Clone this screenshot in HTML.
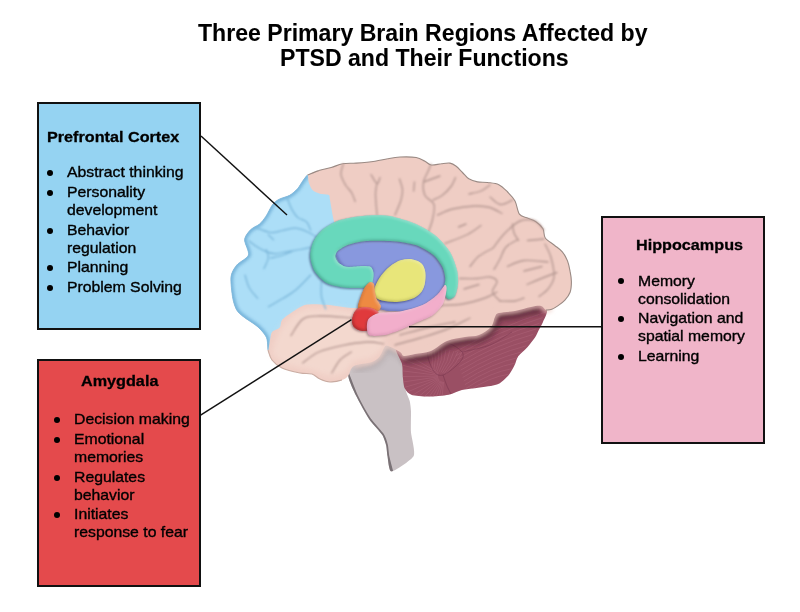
<!DOCTYPE html>
<html><head><meta charset="utf-8"><style>
html,body{margin:0;padding:0;background:#fff;}
body{width:800px;height:612px;position:relative;overflow:hidden;font-family:"Liberation Sans",sans-serif;}
.t{position:absolute;white-space:nowrap;line-height:30px;transform-origin:0 0;}
.b{position:absolute;border-radius:50%;background:#000;}
.box{position:absolute;box-sizing:border-box;border:2px solid #111;}
.brain{position:absolute;left:0;top:0;}
</style></head><body>
<div class="t" style="left:198.00px;top:18.23px;font-size:23.3px;font-weight:bold;color:#000;transform:scaleX(0.991);-webkit-text-stroke:0.05px #000">Three Primary Brain Regions Affected by</div><div class="t" style="left:279.50px;top:42.93px;font-size:23.3px;font-weight:bold;color:#000;transform:scaleX(0.991);-webkit-text-stroke:0.05px #000">PTSD and Their Functions</div><div class="box" style="left:37px;top:102px;width:164px;height:228px;background:#95d3f2"></div><div class="box" style="left:37px;top:359px;width:164px;height:228px;background:#e44a4c"></div><div class="box" style="left:601px;top:216px;width:164px;height:228px;background:#f0b5c9"></div>
<svg class="brain" width="800" height="612" viewBox="0 0 800 612"><defs><filter id="blur1" x="-20%" y="-20%" width="140%" height="140%"><feGaussianBlur stdDeviation="0.6"/></filter><filter id="blur08" x="-20%" y="-20%" width="140%" height="140%"><feGaussianBlur stdDeviation="0.9"/></filter><filter id="blur05" x="-20%" y="-20%" width="140%" height="140%"><feGaussianBlur stdDeviation="0.4"/></filter><filter id="blur15" x="-20%" y="-20%" width="140%" height="140%"><feGaussianBlur stdDeviation="1.5"/></filter><filter id="blur2" x="-20%" y="-20%" width="140%" height="140%"><feGaussianBlur stdDeviation="2"/></filter><filter id="blur3" x="-20%" y="-20%" width="140%" height="140%"><feGaussianBlur stdDeviation="3"/></filter><filter id="bvP" x="-20%" y="-20%" width="140%" height="140%" color-interpolation-filters="sRGB"><feGaussianBlur in="SourceAlpha" stdDeviation="1.6" result="b"/><feOffset in="b" dx="1.3" dy="-1.3" result="o"/><feComposite in="SourceAlpha" in2="o" operator="arithmetic" k2="1" k3="-1" result="inner"/><feFlood flood-color="#303880" flood-opacity="0.45"/><feComposite in2="inner" operator="in" result="sh"/><feOffset in="b" dx="-1.3" dy="1.3" result="o2"/><feComposite in="SourceAlpha" in2="o2" operator="arithmetic" k2="1" k3="-1" result="inner2"/><feFlood flood-color="#ffffff" flood-opacity="0.35"/><feComposite in2="inner2" operator="in" result="hl"/><feGaussianBlur in="SourceAlpha" stdDeviation="1.3" result="db"/><feOffset in="db" dx="-0.6" dy="1.4" result="do"/><feFlood flood-color="#202050" flood-opacity="0.5"/><feComposite in2="do" operator="in" result="ds"/><feMerge><feMergeNode in="ds"/><feMergeNode in="SourceGraphic"/><feMergeNode in="sh"/><feMergeNode in="hl"/></feMerge></filter><filter id="bvG" x="-20%" y="-20%" width="140%" height="140%" color-interpolation-filters="sRGB"><feGaussianBlur in="SourceAlpha" stdDeviation="1.6" result="b"/><feOffset in="b" dx="1.3" dy="-1.3" result="o"/><feComposite in="SourceAlpha" in2="o" operator="arithmetic" k2="1" k3="-1" result="inner"/><feFlood flood-color="#1f6a58" flood-opacity="0.45"/><feComposite in2="inner" operator="in" result="sh"/><feOffset in="b" dx="-1.3" dy="1.3" result="o2"/><feComposite in="SourceAlpha" in2="o2" operator="arithmetic" k2="1" k3="-1" result="inner2"/><feFlood flood-color="#ffffff" flood-opacity="0.35"/><feComposite in2="inner2" operator="in" result="hl"/><feGaussianBlur in="SourceAlpha" stdDeviation="1.3" result="db"/><feOffset in="db" dx="-0.6" dy="1.4" result="do"/><feFlood flood-color="#20305a" flood-opacity="0.6"/><feComposite in2="do" operator="in" result="ds"/><feMerge><feMergeNode in="ds"/><feMergeNode in="SourceGraphic"/><feMergeNode in="sh"/><feMergeNode in="hl"/></feMerge></filter><filter id="bvY" x="-20%" y="-20%" width="140%" height="140%" color-interpolation-filters="sRGB"><feGaussianBlur in="SourceAlpha" stdDeviation="1.6" result="b"/><feOffset in="b" dx="1.3" dy="-1.3" result="o"/><feComposite in="SourceAlpha" in2="o" operator="arithmetic" k2="1" k3="-1" result="inner"/><feFlood flood-color="#7a7a20" flood-opacity="0.45"/><feComposite in2="inner" operator="in" result="sh"/><feOffset in="b" dx="-1.3" dy="1.3" result="o2"/><feComposite in="SourceAlpha" in2="o2" operator="arithmetic" k2="1" k3="-1" result="inner2"/><feFlood flood-color="#ffffff" flood-opacity="0.35"/><feComposite in2="inner2" operator="in" result="hl"/><feGaussianBlur in="SourceAlpha" stdDeviation="1.3" result="db"/><feOffset in="db" dx="-0.6" dy="1.4" result="do"/><feFlood flood-color="#202050" flood-opacity="0.6"/><feComposite in2="do" operator="in" result="ds"/><feMerge><feMergeNode in="ds"/><feMergeNode in="SourceGraphic"/><feMergeNode in="sh"/><feMergeNode in="hl"/></feMerge></filter><filter id="bvO" x="-20%" y="-20%" width="140%" height="140%" color-interpolation-filters="sRGB"><feGaussianBlur in="SourceAlpha" stdDeviation="1.6" result="b"/><feOffset in="b" dx="1.3" dy="-1.3" result="o"/><feComposite in="SourceAlpha" in2="o" operator="arithmetic" k2="1" k3="-1" result="inner"/><feFlood flood-color="#803010" flood-opacity="0.45"/><feComposite in2="inner" operator="in" result="sh"/><feOffset in="b" dx="-1.3" dy="1.3" result="o2"/><feComposite in="SourceAlpha" in2="o2" operator="arithmetic" k2="1" k3="-1" result="inner2"/><feFlood flood-color="#ffffff" flood-opacity="0.35"/><feComposite in2="inner2" operator="in" result="hl"/><feGaussianBlur in="SourceAlpha" stdDeviation="1.3" result="db"/><feOffset in="db" dx="-0.6" dy="1.4" result="do"/><feFlood flood-color="#401020" flood-opacity="0.5"/><feComposite in2="do" operator="in" result="ds"/><feMerge><feMergeNode in="ds"/><feMergeNode in="SourceGraphic"/><feMergeNode in="sh"/><feMergeNode in="hl"/></feMerge></filter><filter id="bvR" x="-20%" y="-20%" width="140%" height="140%" color-interpolation-filters="sRGB"><feGaussianBlur in="SourceAlpha" stdDeviation="1.6" result="b"/><feOffset in="b" dx="1.3" dy="-1.3" result="o"/><feComposite in="SourceAlpha" in2="o" operator="arithmetic" k2="1" k3="-1" result="inner"/><feFlood flood-color="#701010" flood-opacity="0.55"/><feComposite in2="inner" operator="in" result="sh"/><feOffset in="b" dx="-1.3" dy="1.3" result="o2"/><feComposite in="SourceAlpha" in2="o2" operator="arithmetic" k2="1" k3="-1" result="inner2"/><feFlood flood-color="#ffffff" flood-opacity="0.35"/><feComposite in2="inner2" operator="in" result="hl"/><feGaussianBlur in="SourceAlpha" stdDeviation="1.3" result="db"/><feOffset in="db" dx="-0.6" dy="1.4" result="do"/><feFlood flood-color="#401020" flood-opacity="0.5"/><feComposite in2="do" operator="in" result="ds"/><feMerge><feMergeNode in="ds"/><feMergeNode in="SourceGraphic"/><feMergeNode in="sh"/><feMergeNode in="hl"/></feMerge></filter><filter id="bvH" x="-20%" y="-20%" width="140%" height="140%" color-interpolation-filters="sRGB"><feGaussianBlur in="SourceAlpha" stdDeviation="1.6" result="b"/><feOffset in="b" dx="1.3" dy="-1.3" result="o"/><feComposite in="SourceAlpha" in2="o" operator="arithmetic" k2="1" k3="-1" result="inner"/><feFlood flood-color="#a05078" flood-opacity="0.35"/><feComposite in2="inner" operator="in" result="sh"/><feOffset in="b" dx="-1.3" dy="1.3" result="o2"/><feComposite in="SourceAlpha" in2="o2" operator="arithmetic" k2="1" k3="-1" result="inner2"/><feFlood flood-color="#ffffff" flood-opacity="0.35"/><feComposite in2="inner2" operator="in" result="hl"/><feGaussianBlur in="SourceAlpha" stdDeviation="1.3" result="db"/><feOffset in="db" dx="-0.6" dy="1.4" result="do"/><feFlood flood-color="#503040" flood-opacity="0.45"/><feComposite in2="do" operator="in" result="ds"/><feMerge><feMergeNode in="ds"/><feMergeNode in="SourceGraphic"/><feMergeNode in="sh"/><feMergeNode in="hl"/></feMerge></filter><clipPath id="stemclip"><path d="M350.0,350.0 C355.2,345.9 394.4,335.5 400.0,335.0 C405.6,334.5 405.7,341.3 406.0,345.0 C406.3,348.7 403.2,367.7 403.2,372.3 C403.2,376.9 405.2,387.7 405.8,390.6 C406.4,393.5 409.2,398.9 409.7,401.0 C410.2,403.1 410.9,408.4 411.0,411.5 C411.1,414.6 410.7,427.9 411.0,432.4 C411.3,436.8 415.7,452.1 413.7,456.0 C411.7,459.9 394.0,471.6 391.4,471.6 C388.8,471.6 388.0,458.6 387.5,456.0 C387.0,453.4 386.7,447.6 386.2,445.5 C385.7,443.4 384.0,437.6 382.3,435.0 C380.6,432.4 371.8,423.2 369.2,419.3 C366.6,415.4 358.2,400.1 356.1,395.8 C354.0,391.5 348.9,380.8 348.3,376.2 C347.7,371.6 344.8,354.1 350.0,350.0Z"/></clipPath><clipPath id="cbclip"><path d="M420.0,330.0 C433.9,324.0 483.9,303.6 500.0,300.0 C516.1,296.4 534.7,301.5 541.0,303.0 C547.3,304.5 546.7,308.5 547.0,311.0 C547.3,313.5 544.1,319.5 543.0,322.0 C541.9,324.5 539.9,327.9 538.8,330.0 C537.7,332.1 536.5,335.2 535.0,337.5 C533.5,339.8 529.8,344.4 527.6,346.9 C525.4,349.4 520.0,353.8 518.2,356.3 C516.4,358.8 515.7,363.1 514.4,365.6 C513.1,368.1 510.8,372.6 508.8,375.0 C506.8,377.4 502.1,381.9 499.4,383.4 C496.7,384.9 491.5,385.7 488.2,386.3 C484.9,386.9 478.5,387.7 475.0,388.2 C471.5,388.7 465.4,389.1 461.9,390.0 C458.4,390.9 453.3,393.8 448.8,394.7 C444.3,395.6 433.1,396.6 428.1,396.6 C423.1,396.6 414.4,395.8 411.3,394.7 C408.2,393.6 405.8,390.6 404.7,388.2 C403.6,385.8 403.2,380.2 402.8,376.9 C402.4,373.6 402.9,368.1 402.0,363.8 C401.1,359.5 393.6,349.5 396.0,345.0 C398.4,340.5 406.1,336.0 420.0,330.0Z"/></clipPath><clipPath id="blueclip"><path d="M307.5,175.0 C306.7,174.8 304.0,179.2 302.7,181.0 C301.4,182.8 299.2,186.9 297.5,188.8 C295.8,190.7 292.1,193.9 289.7,195.3 C287.3,196.7 281.5,198.0 279.2,199.2 C276.9,200.4 274.5,202.1 272.7,204.4 C270.9,206.7 267.7,213.6 266.0,216.2 C264.3,218.8 261.7,222.2 259.6,224.0 C257.5,225.8 252.5,227.7 250.5,229.8 C248.5,231.9 244.9,236.2 244.6,239.6 C244.3,243.0 249.5,251.6 248.5,255.0 C247.5,258.4 239.1,262.1 236.8,265.0 C234.5,267.9 231.5,272.4 231.0,276.9 C230.5,281.4 232.0,294.0 232.8,298.4 C233.6,302.8 235.3,307.6 236.7,310.0 C238.1,312.4 240.2,314.1 243.0,316.4 C245.8,318.7 254.9,324.2 258.0,327.0 C261.1,329.8 265.2,334.5 266.5,337.6 C267.8,340.7 267.5,349.7 268.0,350.0 C268.5,350.3 269.5,342.4 270.0,340.0 C270.5,337.6 270.7,333.7 272.0,332.0 C273.3,330.3 278.5,329.1 279.8,327.5 C281.1,325.9 280.5,321.9 282.0,320.0 C283.5,318.1 287.8,315.0 291.0,313.0 C294.2,311.0 301.0,305.9 305.8,304.8 C310.6,303.7 320.9,304.4 327.0,304.8 C333.1,305.2 346.6,307.8 351.3,308.0 C356.0,308.2 359.5,308.4 362.0,306.0 C364.5,303.6 371.6,296.1 370.0,290.0 C368.4,283.9 354.0,267.3 350.0,260.0 C346.0,252.7 342.1,240.1 340.0,235.0 C337.9,229.9 335.3,226.1 334.0,221.4 C332.7,216.7 330.7,203.5 330.0,200.0 C329.3,196.5 330.1,195.8 328.8,195.0 C327.4,194.2 322.2,194.4 320.0,193.8 C317.8,193.1 314.0,191.5 312.5,190.0 C311.0,188.5 309.4,184.5 308.8,182.5 C308.1,180.5 308.3,175.2 307.5,175.0Z"/></clipPath></defs><path d="M350.0,350.0 C355.2,345.9 394.4,335.5 400.0,335.0 C405.6,334.5 405.7,341.3 406.0,345.0 C406.3,348.7 403.2,367.7 403.2,372.3 C403.2,376.9 405.2,387.7 405.8,390.6 C406.4,393.5 409.2,398.9 409.7,401.0 C410.2,403.1 410.9,408.4 411.0,411.5 C411.1,414.6 410.7,427.9 411.0,432.4 C411.3,436.8 415.7,452.1 413.7,456.0 C411.7,459.9 394.0,471.6 391.4,471.6 C388.8,471.6 388.0,458.6 387.5,456.0 C387.0,453.4 386.7,447.6 386.2,445.5 C385.7,443.4 384.0,437.6 382.3,435.0 C380.6,432.4 371.8,423.2 369.2,419.3 C366.6,415.4 358.2,400.1 356.1,395.8 C354.0,391.5 348.9,380.8 348.3,376.2 C347.7,371.6 344.8,354.1 350.0,350.0Z" fill="#c9c1c4"/><g clip-path="url(#stemclip)"><path d="M346.0,370.0 C346.2,370.6 347.3,373.6 348.3,376.2 C349.3,378.8 354.0,391.5 356.1,395.8 C358.2,400.1 366.6,415.4 369.2,419.3 C371.8,423.2 380.6,432.4 382.3,435.0 C384.0,437.6 385.7,443.4 386.2,445.5 C386.7,447.6 387.0,453.4 387.5,456.0 C388.0,458.6 391.0,470.0 391.4,471.6" fill="none" stroke="#7a7276" stroke-width="3.5" filter="url(#blur1)"/></g><path d="M420.0,330.0 C433.9,324.0 483.9,303.6 500.0,300.0 C516.1,296.4 534.7,301.5 541.0,303.0 C547.3,304.5 546.7,308.5 547.0,311.0 C547.3,313.5 544.1,319.5 543.0,322.0 C541.9,324.5 539.9,327.9 538.8,330.0 C537.7,332.1 536.5,335.2 535.0,337.5 C533.5,339.8 529.8,344.4 527.6,346.9 C525.4,349.4 520.0,353.8 518.2,356.3 C516.4,358.8 515.7,363.1 514.4,365.6 C513.1,368.1 510.8,372.6 508.8,375.0 C506.8,377.4 502.1,381.9 499.4,383.4 C496.7,384.9 491.5,385.7 488.2,386.3 C484.9,386.9 478.5,387.7 475.0,388.2 C471.5,388.7 465.4,389.1 461.9,390.0 C458.4,390.9 453.3,393.8 448.8,394.7 C444.3,395.6 433.1,396.6 428.1,396.6 C423.1,396.6 414.4,395.8 411.3,394.7 C408.2,393.6 405.8,390.6 404.7,388.2 C403.6,385.8 403.2,380.2 402.8,376.9 C402.4,373.6 402.9,368.1 402.0,363.8 C401.1,359.5 393.6,349.5 396.0,345.0 C398.4,340.5 406.1,336.0 420.0,330.0Z" fill="#9a4f64"/><g clip-path="url(#cbclip)"><path d="M443.5,382.0 L439.6,425.8" fill="none" stroke="#b56b80" stroke-width="0.7" opacity="0.55"/><path d="M442.7,381.9 L433.0,424.8" fill="none" stroke="#b56b80" stroke-width="0.7" opacity="0.55"/><path d="M441.9,381.6 L426.6,422.9" fill="none" stroke="#b56b80" stroke-width="0.7" opacity="0.55"/><path d="M441.2,381.3 L420.5,420.1" fill="none" stroke="#b56b80" stroke-width="0.7" opacity="0.55"/><path d="M440.5,380.9 L414.8,416.6" fill="none" stroke="#b56b80" stroke-width="0.7" opacity="0.55"/><path d="M439.9,380.4 L409.7,412.4" fill="none" stroke="#b56b80" stroke-width="0.7" opacity="0.55"/><path d="M439.3,379.8 L405.1,407.5" fill="none" stroke="#b56b80" stroke-width="0.7" opacity="0.55"/><path d="M438.9,379.1 L401.3,402.0" fill="none" stroke="#b56b80" stroke-width="0.7" opacity="0.55"/><path d="M438.5,378.4 L398.2,396.1" fill="none" stroke="#b56b80" stroke-width="0.7" opacity="0.55"/><path d="M438.2,377.7 L395.9,389.8" fill="none" stroke="#b56b80" stroke-width="0.7" opacity="0.55"/><path d="M438.1,376.9 L394.5,383.2" fill="none" stroke="#b56b80" stroke-width="0.7" opacity="0.55"/><path d="M438.0,376.1 L394.0,376.6" fill="none" stroke="#b56b80" stroke-width="0.7" opacity="0.55"/><path d="M438.0,375.3 L394.4,369.9" fill="none" stroke="#b56b80" stroke-width="0.7" opacity="0.55"/><path d="M438.2,374.5 L395.6,363.3" fill="none" stroke="#b56b80" stroke-width="0.7" opacity="0.55"/><path d="M438.5,373.7 L397.8,357.0" fill="none" stroke="#b56b80" stroke-width="0.7" opacity="0.55"/><path d="M438.8,373.0 L400.7,351.0" fill="none" stroke="#b56b80" stroke-width="0.7" opacity="0.55"/><path d="M430.0,347.0 Q434.0,358.5 432.0,370.0" fill="none" stroke="#b56b80" stroke-width="0.7" opacity="0.55"/><path d="M434.0,347.6 Q436.9,359.1 433.8,370.5" fill="none" stroke="#b56b80" stroke-width="0.7" opacity="0.55"/><path d="M438.0,348.2 Q439.8,359.6 435.5,371.0" fill="none" stroke="#b56b80" stroke-width="0.7" opacity="0.55"/><path d="M442.0,348.9 Q442.6,360.2 437.2,371.5" fill="none" stroke="#b56b80" stroke-width="0.7" opacity="0.55"/><path d="M446.0,349.5 Q445.5,360.8 439.0,372.0" fill="none" stroke="#b56b80" stroke-width="0.7" opacity="0.55"/><path d="M450.0,350.1 Q448.4,361.3 440.8,372.5" fill="none" stroke="#b56b80" stroke-width="0.7" opacity="0.55"/><path d="M454.0,350.8 Q451.2,361.9 442.5,373.0" fill="none" stroke="#b56b80" stroke-width="0.7" opacity="0.55"/><path d="M458.0,351.4 Q454.1,362.4 444.2,373.5" fill="none" stroke="#b56b80" stroke-width="0.7" opacity="0.55"/><path d="M462.0,352.0 Q457.0,363.0 446.0,374.0" fill="none" stroke="#b56b80" stroke-width="0.7" opacity="0.55"/><path d="M455.0,352.0 Q500.5,326.0 546.0,312.0" fill="none" stroke="#b56b80" stroke-width="0.7" opacity="0.55"/><path d="M456.1,355.6 Q499.4,330.6 542.7,317.6" fill="none" stroke="#b56b80" stroke-width="0.7" opacity="0.55"/><path d="M457.2,359.3 Q498.3,335.3 539.5,323.3" fill="none" stroke="#b56b80" stroke-width="0.7" opacity="0.55"/><path d="M458.3,362.9 Q497.2,339.9 536.2,328.9" fill="none" stroke="#b56b80" stroke-width="0.7" opacity="0.55"/><path d="M459.4,366.5 Q496.1,344.5 532.9,334.5" fill="none" stroke="#b56b80" stroke-width="0.7" opacity="0.55"/><path d="M460.5,370.2 Q495.0,349.2 529.6,340.2" fill="none" stroke="#b56b80" stroke-width="0.7" opacity="0.55"/><path d="M461.5,373.8 Q494.0,353.8 526.4,345.8" fill="none" stroke="#b56b80" stroke-width="0.7" opacity="0.55"/><path d="M462.6,377.5 Q492.9,358.5 523.1,351.5" fill="none" stroke="#b56b80" stroke-width="0.7" opacity="0.55"/><path d="M463.7,381.1 Q491.8,363.1 519.8,357.1" fill="none" stroke="#b56b80" stroke-width="0.7" opacity="0.55"/><path d="M464.8,384.7 Q490.7,367.7 516.5,362.7" fill="none" stroke="#b56b80" stroke-width="0.7" opacity="0.55"/><path d="M465.9,388.4 Q489.6,372.4 513.3,368.4" fill="none" stroke="#b56b80" stroke-width="0.7" opacity="0.55"/><path d="M467.0,392.0 Q488.5,377.0 510.0,374.0" fill="none" stroke="#b56b80" stroke-width="0.7" opacity="0.55"/><path d="M428.0,350.0 C430.2,345.5 440.3,342.7 446.0,343.0 C451.7,343.3 459.7,348.8 462.0,352.0 C464.3,355.2 463.2,358.2 460.0,362.0 C456.8,365.8 447.5,373.7 443.0,375.0 C438.5,376.3 435.5,374.2 433.0,370.0 C430.5,365.8 425.8,354.5 428.0,350.0Z" fill="none" stroke="#70304a" stroke-width="1" opacity="0.45"/><path d="M443.0,375.0 C443.7,376.8 445.5,382.5 447.0,386.0 C448.5,389.5 451.2,394.3 452.0,396.0" fill="none" stroke="#70304a" stroke-width="1" opacity="0.45"/><path d="M462.0,352.0 C466.7,350.8 481.7,348.3 490.0,345.0 C498.3,341.7 508.3,334.2 512.0,332.0" fill="none" stroke="#70304a" stroke-width="0.9" opacity="0.4"/></g><path d="M541.0,306.0 C539.3,306.2 535.3,306.2 531.0,307.0 C526.7,307.8 520.3,310.0 515.0,311.0 C509.7,312.0 502.3,312.0 499.0,313.0 C495.7,314.0 496.3,314.7 495.0,317.0 C493.7,319.3 493.7,324.0 491.0,327.0 C488.3,330.0 483.3,333.3 479.0,335.0 C474.7,336.7 470.3,336.0 465.0,337.0 C459.7,338.0 452.7,338.7 447.0,341.0 C441.3,343.3 436.3,348.8 431.0,351.0 C425.7,353.2 419.5,353.2 415.0,354.0 C410.5,354.8 405.8,355.7 404.0,356.0" fill="none" stroke="#3a1420" stroke-width="8" opacity="0.7" transform="translate(0,3)" filter="url(#blur3)"/><path d="M404.0,356.0 C403.3,355.3 402.7,353.7 400.0,352.0 C397.3,350.3 390.7,346.7 388.0,346.0 C385.3,345.3 385.3,346.3 384.0,348.0 C382.7,349.7 382.0,353.7 380.0,356.0 C378.0,358.3 376.3,360.3 372.0,362.0 C367.7,363.7 357.0,365.3 354.0,366.0" fill="none" stroke="#403538" stroke-width="6" opacity="0.18" transform="translate(0,2.5)" filter="url(#blur3)"/><path d="M307.5,175.0 C310.2,173.3 314.8,171.8 318.8,170.6 C322.7,169.3 327.3,168.6 331.2,167.5 C335.2,166.4 338.3,164.5 342.5,163.8 C346.7,163.0 350.8,163.5 356.2,163.1 C361.7,162.7 369.8,162.0 375.0,161.2 C380.2,160.5 383.3,159.5 387.5,158.8 C391.7,158.0 395.2,157.2 400.0,157.0 C404.8,156.8 412.1,156.8 416.2,157.5 C420.4,158.2 422.5,160.0 425.0,161.2 C427.5,162.5 428.5,164.6 431.2,165.0 C434.0,165.4 438.1,164.1 441.2,163.8 C444.4,163.4 447.5,162.7 450.0,163.1 C452.5,163.5 454.2,164.7 456.2,166.2 C458.3,167.8 460.4,170.4 462.5,172.5 C464.6,174.6 466.2,177.2 468.8,178.8 C471.2,180.3 474.4,181.3 477.5,181.9 C480.6,182.5 483.9,182.0 487.5,182.5 C491.1,183.0 495.4,183.1 498.8,184.7 C502.2,186.3 504.9,189.3 507.6,192.0 C510.3,194.7 513.0,197.2 515.0,200.9 C517.0,204.6 517.4,211.3 519.4,214.1 C521.4,216.9 524.1,216.6 526.8,217.8 C529.5,219.0 532.9,219.7 535.6,221.5 C538.3,223.3 541.4,226.1 543.0,228.8 C544.6,231.6 543.4,235.3 545.3,238.0 C547.2,240.7 551.6,242.9 554.4,245.2 C557.2,247.5 560.1,249.2 562.3,251.8 C564.5,254.4 566.2,257.6 567.5,260.9 C568.8,264.2 569.5,267.9 570.1,271.4 C570.8,274.9 571.4,278.3 571.4,281.8 C571.4,285.3 571.2,289.2 570.1,292.3 C569.0,295.4 566.9,297.9 564.9,300.1 C562.9,302.3 560.6,303.9 558.4,305.4 C556.2,306.9 553.9,308.5 551.8,309.3 C549.7,310.1 547.8,310.6 546.0,310.0 C544.2,309.4 543.5,306.5 541.0,306.0 C538.5,305.5 535.3,306.2 531.0,307.0 C526.7,307.8 520.3,310.0 515.0,311.0 C509.7,312.0 502.3,312.0 499.0,313.0 C495.7,314.0 496.3,314.7 495.0,317.0 C493.7,319.3 493.7,324.0 491.0,327.0 C488.3,330.0 483.3,333.3 479.0,335.0 C474.7,336.7 470.3,336.0 465.0,337.0 C459.7,338.0 452.7,338.7 447.0,341.0 C441.3,343.3 436.3,348.8 431.0,351.0 C425.7,353.2 419.5,353.2 415.0,354.0 C410.5,354.8 406.5,356.3 404.0,356.0 C401.5,355.7 402.7,353.7 400.0,352.0 C397.3,350.3 390.7,346.7 388.0,346.0 C385.3,345.3 385.3,346.3 384.0,348.0 C382.7,349.7 382.0,353.7 380.0,356.0 C378.0,358.3 376.3,360.3 372.0,362.0 C367.7,363.7 358.0,363.7 354.0,366.0 C350.0,368.3 350.0,373.7 348.0,376.0 C346.0,378.3 345.0,379.0 342.0,380.0 C339.0,381.0 333.7,382.2 330.0,382.0 C326.3,381.8 323.0,380.3 320.0,379.0 C317.0,377.7 315.3,375.0 312.0,374.0 C308.7,373.0 305.0,374.0 300.0,373.0 C295.0,372.0 286.7,370.2 282.0,368.0 C277.3,365.8 274.3,363.0 272.0,360.0 C269.7,357.0 268.9,353.7 268.0,350.0 C267.1,346.3 268.2,341.4 266.5,337.6 C264.8,333.8 261.9,330.5 258.0,327.0 C254.1,323.5 246.6,319.2 243.0,316.4 C239.4,313.6 238.4,313.0 236.7,310.0 C235.0,307.0 233.8,303.9 232.8,298.4 C231.9,292.9 230.3,282.5 231.0,276.9 C231.7,271.3 233.9,268.6 236.8,265.0 C239.7,261.4 247.2,259.2 248.5,255.0 C249.8,250.8 244.3,243.8 244.6,239.6 C244.9,235.4 248.0,232.4 250.5,229.8 C253.0,227.2 257.0,226.3 259.6,224.0 C262.2,221.7 263.8,219.5 266.0,216.2 C268.2,212.9 270.5,207.2 272.7,204.4 C274.9,201.6 276.4,200.7 279.2,199.2 C282.0,197.7 286.6,197.0 289.7,195.3 C292.8,193.6 295.3,191.2 297.5,188.8 C299.7,186.4 301.0,183.3 302.7,181.0 C304.4,178.7 304.8,176.7 307.5,175.0Z" fill="#efcdc4"/><path d="M551.8,309.3 C550.8,309.4 547.8,310.6 546.0,310.0 C544.2,309.4 543.5,306.5 541.0,306.0 C538.5,305.5 535.3,306.2 531.0,307.0 C526.7,307.8 520.3,310.0 515.0,311.0 C509.7,312.0 502.3,312.0 499.0,313.0 C495.7,314.0 496.3,314.7 495.0,317.0 C493.7,319.3 493.7,324.0 491.0,327.0 C488.3,330.0 483.3,333.3 479.0,335.0 C474.7,336.7 470.3,336.0 465.0,337.0 C459.7,338.0 452.7,338.7 447.0,341.0 C441.3,343.3 436.3,348.8 431.0,351.0 C425.7,353.2 419.5,353.2 415.0,354.0 C410.5,354.8 406.5,356.3 404.0,356.0 C401.5,355.7 402.7,353.7 400.0,352.0 C397.3,350.3 390.7,346.7 388.0,346.0 C385.3,345.3 385.3,346.3 384.0,348.0 C382.7,349.7 382.0,353.7 380.0,356.0 C378.0,358.3 376.3,360.3 372.0,362.0 C367.7,363.7 357.0,365.3 354.0,366.0" fill="none" stroke="#efcdc4" stroke-width="3.5" filter="url(#blur2)"/><path d="M307.5,175.0 C309.4,174.3 314.8,171.8 318.8,170.6 C322.7,169.3 327.3,168.6 331.2,167.5 C335.2,166.4 338.3,164.5 342.5,163.8 C346.7,163.0 350.8,163.5 356.2,163.1 C361.7,162.7 369.8,162.0 375.0,161.2 C380.2,160.5 383.3,159.5 387.5,158.8 C391.7,158.0 395.2,157.2 400.0,157.0 C404.8,156.8 412.1,156.8 416.2,157.5 C420.4,158.2 422.5,160.0 425.0,161.2 C427.5,162.5 428.5,164.6 431.2,165.0 C434.0,165.4 438.1,164.1 441.2,163.8 C444.4,163.4 447.5,162.7 450.0,163.1 C452.5,163.5 454.2,164.7 456.2,166.2 C458.3,167.8 460.4,170.4 462.5,172.5 C464.6,174.6 466.2,177.2 468.8,178.8 C471.2,180.3 474.4,181.3 477.5,181.9 C480.6,182.5 483.9,182.0 487.5,182.5 C491.1,183.0 495.4,183.1 498.8,184.7 C502.2,186.3 504.9,189.3 507.6,192.0 C510.3,194.7 513.0,197.2 515.0,200.9 C517.0,204.6 517.4,211.3 519.4,214.1 C521.4,216.9 524.1,216.6 526.8,217.8 C529.5,219.0 532.9,219.7 535.6,221.5 C538.3,223.3 541.4,226.1 543.0,228.8 C544.6,231.6 543.4,235.3 545.3,238.0 C547.2,240.7 551.6,242.9 554.4,245.2 C557.2,247.5 560.1,249.2 562.3,251.8 C564.5,254.4 566.2,257.6 567.5,260.9 C568.8,264.2 569.5,267.9 570.1,271.4 C570.8,274.9 571.4,278.3 571.4,281.8 C571.4,285.3 571.2,289.2 570.1,292.3 C569.0,295.4 566.9,297.9 564.9,300.1 C562.9,302.3 560.6,303.9 558.4,305.4 C556.2,306.9 553.9,308.5 551.8,309.3 C549.7,310.1 547.0,309.9 546.0,310.0" fill="none" stroke="#9a8a84" stroke-width="1.1" filter="url(#blur05)"/><path d="M342.0,380.0 C340.0,380.3 333.7,382.2 330.0,382.0 C326.3,381.8 323.0,380.3 320.0,379.0 C317.0,377.7 315.3,375.0 312.0,374.0 C308.7,373.0 305.0,374.0 300.0,373.0 C295.0,372.0 286.7,370.2 282.0,368.0 C277.3,365.8 274.3,363.0 272.0,360.0 C269.7,357.0 268.7,351.7 268.0,350.0" fill="none" stroke="#c8aaa0" stroke-width="1.2" filter="url(#blur05)"/><path d="M307.5,175.0 C306.7,174.8 304.0,179.2 302.7,181.0 C301.4,182.8 299.2,186.9 297.5,188.8 C295.8,190.7 292.1,193.9 289.7,195.3 C287.3,196.7 281.5,198.0 279.2,199.2 C276.9,200.4 274.5,202.1 272.7,204.4 C270.9,206.7 267.7,213.6 266.0,216.2 C264.3,218.8 261.7,222.2 259.6,224.0 C257.5,225.8 252.5,227.7 250.5,229.8 C248.5,231.9 244.9,236.2 244.6,239.6 C244.3,243.0 249.5,251.6 248.5,255.0 C247.5,258.4 239.1,262.1 236.8,265.0 C234.5,267.9 231.5,272.4 231.0,276.9 C230.5,281.4 232.0,294.0 232.8,298.4 C233.6,302.8 235.3,307.6 236.7,310.0 C238.1,312.4 240.2,314.1 243.0,316.4 C245.8,318.7 254.9,324.2 258.0,327.0 C261.1,329.8 265.2,334.5 266.5,337.6 C267.8,340.7 267.5,349.7 268.0,350.0 C268.5,350.3 269.5,342.4 270.0,340.0 C270.5,337.6 270.7,333.7 272.0,332.0 C273.3,330.3 278.5,329.1 279.8,327.5 C281.1,325.9 280.5,321.9 282.0,320.0 C283.5,318.1 287.8,315.0 291.0,313.0 C294.2,311.0 301.0,305.9 305.8,304.8 C310.6,303.7 320.9,304.4 327.0,304.8 C333.1,305.2 346.6,307.8 351.3,308.0 C356.0,308.2 359.5,308.4 362.0,306.0 C364.5,303.6 371.6,296.1 370.0,290.0 C368.4,283.9 354.0,267.3 350.0,260.0 C346.0,252.7 342.1,240.1 340.0,235.0 C337.9,229.9 335.3,226.1 334.0,221.4 C332.7,216.7 330.7,203.5 330.0,200.0 C329.3,196.5 330.1,195.8 328.8,195.0 C327.4,194.2 322.2,194.4 320.0,193.8 C317.8,193.1 314.0,191.5 312.5,190.0 C311.0,188.5 309.4,184.5 308.8,182.5 C308.1,180.5 308.3,175.2 307.5,175.0Z" fill="#acdef7"/><g clip-path="url(#blueclip)"><path d="M307.5,175.0 C306.9,175.8 304.0,179.2 302.7,181.0 C301.4,182.8 299.2,186.9 297.5,188.8 C295.8,190.7 292.1,193.9 289.7,195.3 C287.3,196.7 281.5,198.0 279.2,199.2 C276.9,200.4 274.5,202.1 272.7,204.4 C270.9,206.7 267.7,213.6 266.0,216.2 C264.3,218.8 261.7,222.2 259.6,224.0 C257.5,225.8 252.5,227.7 250.5,229.8 C248.5,231.9 244.9,236.2 244.6,239.6 C244.3,243.0 249.5,251.6 248.5,255.0 C247.5,258.4 239.1,262.1 236.8,265.0 C234.5,267.9 231.5,272.4 231.0,276.9 C230.5,281.4 232.0,294.0 232.8,298.4 C233.6,302.8 235.3,307.6 236.7,310.0 C238.1,312.4 240.2,314.1 243.0,316.4 C245.8,318.7 254.9,324.2 258.0,327.0 C261.1,329.8 265.2,334.5 266.5,337.6 C267.8,340.7 267.8,348.3 268.0,350.0" fill="none" stroke="#6aaad4" stroke-width="5" opacity="0.8" filter="url(#blur15)"/></g><path d="M307.5,175.0 C306.9,175.8 304.0,179.2 302.7,181.0 C301.4,182.8 299.2,186.9 297.5,188.8 C295.8,190.7 292.1,193.9 289.7,195.3 C287.3,196.7 281.5,198.0 279.2,199.2 C276.9,200.4 274.5,202.1 272.7,204.4 C270.9,206.7 267.7,213.6 266.0,216.2 C264.3,218.8 261.7,222.2 259.6,224.0 C257.5,225.8 252.5,227.7 250.5,229.8 C248.5,231.9 244.9,236.2 244.6,239.6 C244.3,243.0 249.5,251.6 248.5,255.0 C247.5,258.4 239.1,262.1 236.8,265.0 C234.5,267.9 231.5,272.4 231.0,276.9 C230.5,281.4 232.0,294.0 232.8,298.4 C233.6,302.8 235.3,307.6 236.7,310.0 C238.1,312.4 240.2,314.1 243.0,316.4 C245.8,318.7 254.9,324.2 258.0,327.0 C261.1,329.8 265.2,334.5 266.5,337.6 C267.8,340.7 267.8,348.3 268.0,350.0" fill="none" stroke="#7cb8dc" stroke-width="0.8"/><path d="M272.0,352.0 C272.3,347.0 276.7,336.0 280.0,330.0 C283.3,324.0 287.7,319.7 292.0,316.0 C296.3,312.3 300.2,309.3 306.0,308.0 C311.8,306.7 319.5,307.5 327.0,308.0 C334.5,308.5 344.5,308.7 351.0,311.0 C357.5,313.3 361.2,317.8 366.0,322.0 C370.8,326.2 377.0,332.0 380.0,336.0 C383.0,340.0 385.3,342.3 384.0,346.0 C382.7,349.7 377.0,355.3 372.0,358.0 C367.0,360.7 358.3,359.7 354.0,362.0 C349.7,364.3 350.0,369.7 346.0,372.0 C342.0,374.3 336.0,376.3 330.0,376.0 C324.0,375.7 316.7,371.7 310.0,370.0 C303.3,368.3 295.3,367.7 290.0,366.0 C284.7,364.3 281.0,362.3 278.0,360.0 C275.0,357.7 271.7,357.0 272.0,352.0Z" fill="#f6e0d6" opacity="0.6" filter="url(#blur3)"/><g filter="url(#blur08)"><path d="M343.2,164.0 C342.8,165.8 340.6,171.0 341.0,174.5 C341.4,178.0 343.8,182.0 345.5,185.0 C347.2,188.0 349.9,189.8 351.5,192.5 C353.1,195.2 354.6,200.0 355.2,201.5" fill="none" stroke="#b59892" stroke-width="1.35" stroke-linecap="round"/><path d="M371.0,174.5 C372.0,176.0 375.5,183.0 377.0,183.5 C378.5,184.0 379.5,178.5 380.0,177.5" fill="none" stroke="#b59892" stroke-width="1.35" stroke-linecap="round"/><path d="M377.0,183.5 C376.8,185.2 375.5,188.8 375.5,194.0 C375.5,199.2 376.8,211.5 377.0,215.0" fill="none" stroke="#b59892" stroke-width="1.35" stroke-linecap="round"/><path d="M399.5,179.0 C400.0,180.8 402.2,186.0 402.5,189.5 C402.8,193.0 402.2,195.8 401.0,200.0 C399.8,204.2 396.0,212.5 395.0,215.0" fill="none" stroke="#b59892" stroke-width="1.35" stroke-linecap="round"/><path d="M414.5,182.0 L413.7,191.0" fill="none" stroke="#b59892" stroke-width="1.35" stroke-linecap="round"/><path d="M431.0,164.0 C430.5,165.2 429.2,168.5 428.0,171.5 C426.8,174.5 424.0,178.0 423.5,182.0 C423.0,186.0 423.2,191.8 425.0,195.5 C426.8,199.2 432.8,200.5 434.0,204.5 C435.2,208.5 433.5,214.8 432.5,219.5 C431.5,224.2 428.8,230.8 428.0,233.0" fill="none" stroke="#b59892" stroke-width="1.35" stroke-linecap="round"/><path d="M423.5,182.0 L440.0,176.0" fill="none" stroke="#b59892" stroke-width="1.35" stroke-linecap="round"/><path d="M455.5,177.5 C454.8,179.0 453.2,183.5 451.0,186.5 C448.8,189.5 445.0,193.2 442.0,195.5 C439.0,197.8 434.5,199.2 433.0,200.0" fill="none" stroke="#b59892" stroke-width="1.35" stroke-linecap="round"/><path d="M469.0,194.0 C471.0,193.5 477.5,192.5 481.0,191.0 C484.5,189.5 488.5,186.0 490.0,185.0" fill="none" stroke="#b59892" stroke-width="1.35" stroke-linecap="round"/><path d="M437.5,215.0 C440.0,214.0 446.2,210.5 452.5,209.0 C458.8,207.5 468.8,206.2 475.0,206.0 C481.2,205.8 485.5,206.2 490.0,207.5 C494.5,208.8 500.0,212.5 502.0,213.5" fill="none" stroke="#b59892" stroke-width="1.35" stroke-linecap="round"/><path d="M490.0,197.0 C491.8,198.2 496.8,204.0 500.5,204.5 C504.2,205.0 510.5,200.8 512.5,200.0" fill="none" stroke="#b59892" stroke-width="1.35" stroke-linecap="round"/><path d="M458.5,227.0 L466.0,224.0" fill="none" stroke="#b59892" stroke-width="1.35" stroke-linecap="round"/><path d="M445.0,243.5 C448.8,242.0 461.5,237.5 467.5,234.5 C473.5,231.5 478.8,227.0 481.0,225.5" fill="none" stroke="#b59892" stroke-width="1.35" stroke-linecap="round"/><path d="M493.0,248.0 C495.0,245.5 500.5,237.5 505.0,233.0 C509.5,228.5 515.0,223.0 520.0,221.0 C525.0,219.0 531.0,219.5 535.0,221.0 C539.0,222.5 542.5,228.5 544.0,230.0" fill="none" stroke="#b59892" stroke-width="1.35" stroke-linecap="round"/><path d="M527.5,240.5 L544.0,239.0" fill="none" stroke="#b59892" stroke-width="1.35" stroke-linecap="round"/><path d="M512.5,224.0 C512.8,225.5 513.0,230.2 514.0,233.0 C515.0,235.8 517.8,239.2 518.5,240.5" fill="none" stroke="#b59892" stroke-width="1.35" stroke-linecap="round"/><path d="M470.0,266.5 C471.5,264.8 475.2,259.0 479.0,256.0 C482.8,253.0 490.2,249.8 492.5,248.5" fill="none" stroke="#b59892" stroke-width="1.35" stroke-linecap="round"/><path d="M494.0,269.5 C495.0,267.8 498.0,262.8 500.0,259.0 C502.0,255.2 503.0,250.2 506.0,247.0 C509.0,243.8 516.0,240.8 518.0,239.5" fill="none" stroke="#b59892" stroke-width="1.35" stroke-linecap="round"/><path d="M507.5,266.5 C510.2,265.5 517.2,261.2 524.0,260.5 C530.8,259.8 544.0,261.8 548.0,262.0" fill="none" stroke="#b59892" stroke-width="1.35" stroke-linecap="round"/><path d="M524.0,271.0 L542.0,266.5" fill="none" stroke="#b59892" stroke-width="1.35" stroke-linecap="round"/><path d="M459.5,278.5 C462.5,278.5 472.5,278.8 477.5,278.5 C482.5,278.2 486.2,276.5 489.5,277.0 C492.8,277.5 496.5,279.0 497.0,281.5 C497.5,284.0 492.0,288.8 492.5,292.0 C493.0,295.2 498.8,299.5 500.0,301.0" fill="none" stroke="#b59892" stroke-width="1.35" stroke-linecap="round"/><path d="M464.0,289.0 L479.0,284.5" fill="none" stroke="#b59892" stroke-width="1.35" stroke-linecap="round"/><path d="M527.0,284.5 C530.0,283.2 540.0,279.0 545.0,277.0 C550.0,275.0 555.0,273.2 557.0,272.5" fill="none" stroke="#b59892" stroke-width="1.35" stroke-linecap="round"/><path d="M539.0,296.5 C540.5,295.2 545.5,292.2 548.0,289.0 C550.5,285.8 553.5,282.2 554.0,277.0 C554.5,271.8 552.5,263.0 551.0,257.5 C549.5,252.0 546.0,246.2 545.0,244.0" fill="none" stroke="#b59892" stroke-width="1.35" stroke-linecap="round"/><path d="M500.0,301.0 C502.5,301.0 511.0,301.5 515.0,301.0 C519.0,300.5 522.5,298.5 524.0,298.0" fill="none" stroke="#b59892" stroke-width="1.35" stroke-linecap="round"/><path d="M440.0,305.5 C443.8,305.2 455.0,305.2 462.5,304.0 C470.0,302.8 479.2,300.0 485.0,298.0 C490.8,296.0 495.0,293.0 497.0,292.0" fill="none" stroke="#b59892" stroke-width="1.35" stroke-linecap="round"/><path d="M291.0,335.6 C292.9,332.9 297.9,322.7 302.5,319.4 C307.1,316.1 310.7,316.3 318.8,316.0 C326.9,315.7 345.9,317.5 351.3,317.8" fill="none" stroke="#b59892" stroke-width="1.35" stroke-linecap="round"/><path d="M302.5,363.0 C305.2,361.2 312.1,354.9 318.8,352.0 C325.6,349.1 334.9,347.1 343.0,345.4 C351.1,343.7 360.8,342.3 367.6,342.0 C374.4,341.7 381.1,343.5 383.8,343.8" fill="none" stroke="#b59892" stroke-width="1.35" stroke-linecap="round"/><path d="M331.8,373.0 C333.2,370.8 336.8,363.5 340.0,360.0 C343.2,356.5 349.4,353.3 351.3,352.0" fill="none" stroke="#b59892" stroke-width="1.35" stroke-linecap="round"/><path d="M395.0,345.0 C399.2,343.8 411.7,340.5 420.0,338.0 C428.3,335.5 436.7,333.3 445.0,330.0 C453.3,326.7 465.8,320.0 470.0,318.0" fill="none" stroke="#b59892" stroke-width="1.35" stroke-linecap="round"/><path d="M400.0,335.0 C405.0,333.7 420.8,329.2 430.0,327.0 C439.2,324.8 450.8,322.8 455.0,322.0" fill="none" stroke="#b59892" stroke-width="1.35" stroke-linecap="round"/></g><g filter="url(#blur08)"><path d="M255.6,227.2 C258.1,228.1 265.9,232.0 270.5,232.5 C275.1,233.0 278.9,231.0 283.2,230.3 C287.4,229.6 291.8,227.8 296.0,228.2 C300.2,228.6 304.8,230.7 308.7,232.5 C312.6,234.3 317.5,237.8 319.3,238.8" fill="none" stroke="#78b4d8" stroke-width="1.2" stroke-linecap="round"/><path d="M287.4,198.5 C288.1,200.3 289.9,205.9 291.7,209.1 C293.5,212.3 295.5,215.5 298.0,217.6 C300.5,219.7 304.4,219.7 306.5,221.8 C308.6,223.9 310.1,228.9 310.8,230.3" fill="none" stroke="#78b4d8" stroke-width="1.2" stroke-linecap="round"/><path d="M268.3,234.6 L273.6,239.9" fill="none" stroke="#78b4d8" stroke-width="1.2" stroke-linecap="round"/><path d="M249.2,241.0 C250.6,242.1 254.9,245.5 257.7,247.3 C260.5,249.1 263.4,250.5 266.2,251.6 C269.0,252.7 271.2,253.7 274.7,253.7 C278.2,253.7 283.1,252.3 287.4,251.6 C291.6,250.9 296.3,250.2 300.2,249.5 C304.1,248.8 309.0,247.7 310.8,247.3" fill="none" stroke="#78b4d8" stroke-width="1.2" stroke-linecap="round"/><path d="M266.2,249.5 C266.6,250.9 268.7,254.8 268.3,258.0 C267.9,261.2 264.7,266.8 264.0,268.6" fill="none" stroke="#78b4d8" stroke-width="1.2" stroke-linecap="round"/><path d="M270.5,258.0 C272.3,257.6 277.6,256.9 281.1,255.8 C284.6,254.7 289.9,252.3 291.7,251.6" fill="none" stroke="#78b4d8" stroke-width="1.2" stroke-linecap="round"/><path d="M245.0,275.0 C245.7,277.1 247.1,283.8 249.2,287.7 C251.3,291.6 256.3,296.5 257.7,298.3" fill="none" stroke="#78b4d8" stroke-width="1.2" stroke-linecap="round"/><path d="M268.3,306.8 C270.8,305.4 278.6,301.1 283.2,298.3 C287.8,295.5 291.4,293.7 296.0,289.8 C300.6,285.9 308.3,277.5 310.8,275.0" fill="none" stroke="#78b4d8" stroke-width="1.2" stroke-linecap="round"/><path d="M321.4,281.3 C321.4,283.8 320.7,291.6 321.4,296.2 C322.1,300.8 325.0,306.8 325.7,308.9" fill="none" stroke="#78b4d8" stroke-width="1.2" stroke-linecap="round"/></g><path d="M336.0,256.0 C335.1,253.7 336.5,252.1 338.2,250.6 C339.9,249.1 344.8,246.0 348.5,244.7 C352.2,243.4 360.7,241.5 366.2,241.0 C371.7,240.5 385.0,240.8 390.0,241.0 C395.0,241.2 400.2,241.8 404.0,242.5 C407.8,243.2 414.9,244.5 418.8,246.2 C422.7,247.9 430.4,252.3 433.5,255.0 C436.6,257.7 440.8,263.7 442.4,266.8 C444.0,269.9 444.9,276.0 445.3,278.5 C445.7,281.0 446.1,283.2 445.3,285.9 C444.5,288.6 441.8,296.3 439.4,299.0 C437.0,301.7 431.3,304.9 427.6,306.5 C423.9,308.1 416.6,310.4 411.5,311.0 C406.4,311.6 393.9,311.4 389.4,311.0 C384.9,310.6 379.4,308.8 377.6,308.0 C375.8,307.2 375.6,305.8 376.0,305.0 C376.4,304.2 380.9,303.7 380.6,302.0 C380.3,300.3 375.6,294.7 374.0,292.0 C372.4,289.3 369.1,283.6 368.8,281.5 C368.5,279.4 371.6,277.8 371.8,276.0 C372.0,274.2 373.6,269.1 370.0,268.0 C366.4,266.9 349.5,269.6 345.0,268.0 C340.5,266.4 336.9,258.3 336.0,256.0Z" fill="#8898de" filter="url(#bvP)"/><path d="M369.0,287.4 C365.1,288.4 349.7,288.0 344.0,287.4 C338.3,286.8 330.4,285.2 326.5,283.0 C322.6,280.8 316.9,274.7 314.7,271.2 C312.5,267.7 310.5,260.4 310.3,256.5 C310.1,252.6 311.6,245.3 313.2,241.8 C314.8,238.3 318.9,232.7 322.0,230.0 C325.1,227.3 332.3,223.0 336.8,221.2 C341.3,219.4 351.0,217.6 355.9,216.8 C360.8,216.0 369.0,215.4 373.5,215.3 C378.0,215.2 384.3,214.8 390.0,216.0 C395.7,217.2 409.9,221.3 416.0,224.0 C422.1,226.7 431.5,232.3 436.0,236.0 C440.5,239.7 447.2,247.5 450.0,252.0 C452.8,256.5 455.9,265.7 457.0,270.0 C458.1,274.3 458.3,280.5 458.0,284.0 C457.7,287.5 456.3,294.0 455.0,296.0 C453.7,298.0 449.5,299.6 448.0,299.0 C446.5,298.4 444.2,294.5 443.8,291.8 C443.4,289.1 445.5,281.8 445.3,278.5 C445.1,275.2 444.0,269.9 442.4,266.8 C440.8,263.7 436.6,257.7 433.5,255.0 C430.4,252.3 422.7,247.9 418.8,246.2 C414.9,244.5 407.8,243.2 404.0,242.5 C400.2,241.8 395.0,241.2 390.0,241.0 C385.0,240.8 371.7,240.5 366.2,241.0 C360.7,241.5 352.2,243.4 348.5,244.7 C344.8,246.0 340.0,249.0 338.2,250.6 C336.4,252.2 335.3,254.9 335.3,256.5 C335.3,258.1 336.6,261.0 338.2,262.4 C339.8,263.8 343.9,266.3 347.0,266.8 C350.1,267.3 358.7,266.0 361.8,266.0 C364.9,266.0 369.0,265.9 370.6,266.8 C372.2,267.7 373.2,270.8 373.5,272.6 C373.8,274.4 373.6,278.0 373.0,280.0 C372.4,282.0 372.9,286.4 369.0,287.4Z" fill="#68d8bc" filter="url(#bvG)"/><path d="M373.2,291.8 C374.1,288.9 376.4,282.7 379.1,278.5 C381.8,274.3 385.7,269.9 389.4,266.8 C393.1,263.7 397.3,261.3 401.2,260.1 C405.1,258.9 409.6,258.8 413.0,259.4 C416.4,260.0 419.7,261.6 421.8,263.8 C423.9,266.0 424.9,269.2 425.4,272.6 C425.9,276.0 425.5,281.0 424.7,284.4 C423.9,287.8 422.5,290.8 420.3,293.2 C418.1,295.6 415.4,297.6 411.5,299.1 C407.6,300.6 401.7,301.8 396.8,302.0 C391.9,302.2 385.8,301.6 382.0,300.6 C378.2,299.6 375.5,297.5 374.0,296.0 C372.5,294.5 372.3,294.7 373.2,291.8Z" fill="#e8e67a" filter="url(#bvY)"/><path d="M358.0,308.0 C357.3,305.9 360.1,298.8 361.0,296.0 C361.9,293.2 363.8,288.9 365.0,287.0 C366.2,285.1 368.8,282.4 370.0,282.0 C371.2,281.6 373.3,282.7 374.0,284.0 C374.7,285.3 374.6,289.9 375.0,292.0 C375.4,294.1 376.2,298.1 377.0,300.0 C377.8,301.9 380.9,304.5 381.0,306.0 C381.1,307.5 380.0,310.2 378.0,311.0 C376.0,311.8 368.7,312.4 366.0,312.0 C363.3,311.6 358.7,310.1 358.0,308.0Z" fill="#ee8a42" filter="url(#bvO)"/><path d="M352.0,320.0 C352.2,317.0 353.8,312.2 356.0,310.0 C358.2,307.8 361.7,307.0 365.0,307.0 C368.3,307.0 373.5,308.2 376.0,310.0 C378.5,311.8 380.0,315.2 380.0,318.0 C380.0,320.8 378.5,324.8 376.0,327.0 C373.5,329.2 368.5,330.8 365.0,331.0 C361.5,331.2 357.2,329.8 355.0,328.0 C352.8,326.2 351.8,323.0 352.0,320.0Z" fill="#e03a3c" filter="url(#bvR)"/><path d="M446.5,290.0 C446.2,292.5 444.8,300.7 443.0,304.0 C441.2,307.3 436.3,312.6 433.0,315.0 C429.7,317.4 422.4,320.0 418.0,322.0 C413.6,324.0 404.4,328.3 400.0,330.0 C395.6,331.7 389.0,334.3 385.0,335.0 C381.0,335.7 372.4,336.3 370.0,335.5 C367.6,334.7 367.2,331.2 367.0,329.0 C366.8,326.8 366.9,321.1 368.5,319.0 C370.1,316.9 374.8,314.0 379.0,313.0 C383.2,312.0 394.2,312.6 400.0,311.5 C405.8,310.4 417.6,307.2 422.5,305.0 C427.4,302.8 434.0,297.7 437.0,295.0 C440.0,292.3 443.7,285.7 445.0,285.0 C446.3,284.3 446.8,287.5 446.5,290.0Z" fill="#f2aecb" filter="url(#bvH)"/><line x1="201" y1="136" x2="287" y2="215" stroke="#111" stroke-width="1.4"/><line x1="200.6" y1="415.2" x2="351.5" y2="319.6" stroke="#111" stroke-width="1.4"/><line x1="409" y1="326.8" x2="602" y2="326.8" stroke="#111" stroke-width="1.6"/></svg>
<div class="t" style="left:46.60px;top:121.66px;font-size:15.4px;font-weight:bold;color:#000;transform:scaleX(1.052);-webkit-text-stroke:0.3px #000">Prefrontal Cortex</div><div class="t" style="left:67.40px;top:157.07px;font-size:14.8px;font-weight:normal;color:#000;transform:scaleX(1.066);-webkit-text-stroke:0.35px #000">Abstract thinking</div><div class="b" style="left:47.30px;top:169.90px;width:6.00px;height:6.00px"></div><div class="t" style="left:67.40px;top:176.87px;font-size:14.8px;font-weight:normal;color:#000;transform:scaleX(1.066);-webkit-text-stroke:0.35px #000">Personality</div><div class="b" style="left:47.30px;top:189.70px;width:6.00px;height:6.00px"></div><div class="t" style="left:67.40px;top:194.87px;font-size:14.8px;font-weight:normal;color:#000;transform:scaleX(1.066);-webkit-text-stroke:0.35px #000">development</div><div class="t" style="left:67.40px;top:214.67px;font-size:14.8px;font-weight:normal;color:#000;transform:scaleX(1.066);-webkit-text-stroke:0.35px #000">Behavior</div><div class="b" style="left:47.30px;top:227.50px;width:6.00px;height:6.00px"></div><div class="t" style="left:67.40px;top:232.67px;font-size:14.8px;font-weight:normal;color:#000;transform:scaleX(1.066);-webkit-text-stroke:0.35px #000">regulation</div><div class="t" style="left:67.40px;top:252.47px;font-size:14.8px;font-weight:normal;color:#000;transform:scaleX(1.066);-webkit-text-stroke:0.35px #000">Planning</div><div class="b" style="left:47.30px;top:265.30px;width:6.00px;height:6.00px"></div><div class="t" style="left:67.40px;top:272.27px;font-size:14.8px;font-weight:normal;color:#000;transform:scaleX(1.066);-webkit-text-stroke:0.35px #000">Problem Solving</div><div class="b" style="left:47.30px;top:285.10px;width:6.00px;height:6.00px"></div><div class="t" style="left:81.00px;top:365.66px;font-size:15.4px;font-weight:bold;color:#000;transform:scaleX(1.052);-webkit-text-stroke:0.3px #000">Amygdala</div><div class="t" style="left:74.00px;top:404.07px;font-size:14.8px;font-weight:normal;color:#000;transform:scaleX(1.066);-webkit-text-stroke:0.35px #000">Decision making</div><div class="b" style="left:53.90px;top:416.90px;width:6.00px;height:6.00px"></div><div class="t" style="left:74.00px;top:423.87px;font-size:14.8px;font-weight:normal;color:#000;transform:scaleX(1.066);-webkit-text-stroke:0.35px #000">Emotional</div><div class="b" style="left:53.90px;top:436.70px;width:6.00px;height:6.00px"></div><div class="t" style="left:74.00px;top:441.87px;font-size:14.8px;font-weight:normal;color:#000;transform:scaleX(1.066);-webkit-text-stroke:0.35px #000">memories</div><div class="t" style="left:74.00px;top:461.67px;font-size:14.8px;font-weight:normal;color:#000;transform:scaleX(1.066);-webkit-text-stroke:0.35px #000">Regulates</div><div class="b" style="left:53.90px;top:474.50px;width:6.00px;height:6.00px"></div><div class="t" style="left:74.00px;top:479.67px;font-size:14.8px;font-weight:normal;color:#000;transform:scaleX(1.066);-webkit-text-stroke:0.35px #000">behavior</div><div class="t" style="left:74.00px;top:499.47px;font-size:14.8px;font-weight:normal;color:#000;transform:scaleX(1.066);-webkit-text-stroke:0.35px #000">Initiates</div><div class="b" style="left:53.90px;top:512.30px;width:6.00px;height:6.00px"></div><div class="t" style="left:74.00px;top:517.47px;font-size:14.8px;font-weight:normal;color:#000;transform:scaleX(1.066);-webkit-text-stroke:0.35px #000">response to fear</div><div class="t" style="left:636.00px;top:229.66px;font-size:15.4px;font-weight:bold;color:#000;transform:scaleX(1.052);-webkit-text-stroke:0.3px #000">Hippocampus</div><div class="t" style="left:637.70px;top:265.57px;font-size:14.8px;font-weight:normal;color:#000;transform:scaleX(1.066);-webkit-text-stroke:0.35px #000">Memory</div><div class="b" style="left:617.50px;top:278.40px;width:6.00px;height:6.00px"></div><div class="t" style="left:637.70px;top:283.57px;font-size:14.8px;font-weight:normal;color:#000;transform:scaleX(1.066);-webkit-text-stroke:0.35px #000">consolidation</div><div class="t" style="left:637.70px;top:303.37px;font-size:14.8px;font-weight:normal;color:#000;transform:scaleX(1.066);-webkit-text-stroke:0.35px #000">Navigation and</div><div class="b" style="left:617.50px;top:316.20px;width:6.00px;height:6.00px"></div><div class="t" style="left:637.70px;top:321.37px;font-size:14.8px;font-weight:normal;color:#000;transform:scaleX(1.066);-webkit-text-stroke:0.35px #000">spatial memory</div><div class="t" style="left:637.70px;top:341.17px;font-size:14.8px;font-weight:normal;color:#000;transform:scaleX(1.066);-webkit-text-stroke:0.35px #000">Learning</div><div class="b" style="left:617.50px;top:354.00px;width:6.00px;height:6.00px"></div>
</body></html>
